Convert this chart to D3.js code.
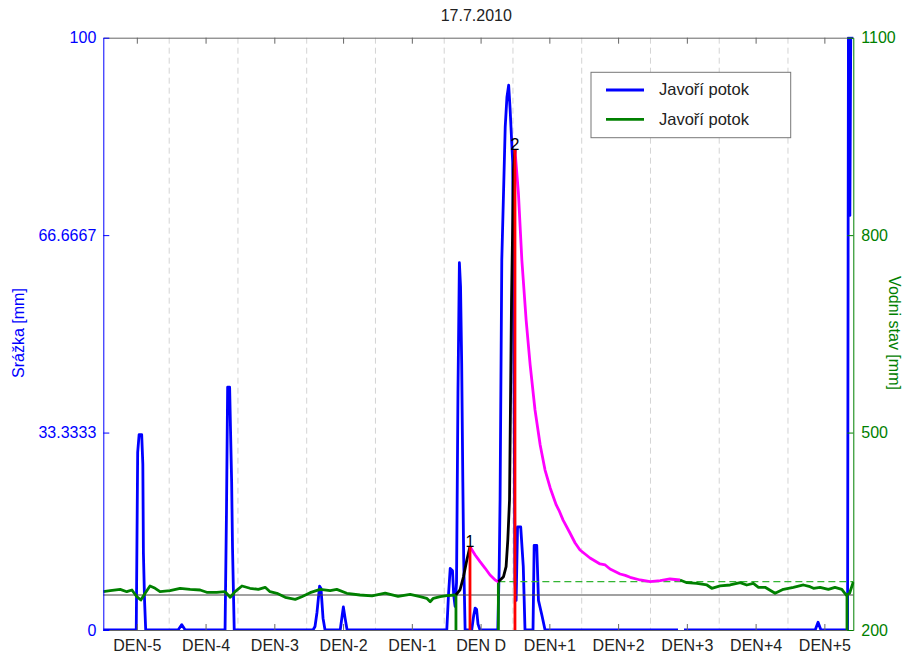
<!DOCTYPE html>
<html>
<head>
<meta charset="utf-8">
<script src="https://cdn.jsdelivr.net/npm/d3@7"></script>
<style>
  body { margin: 0; background: #fff; }
  svg { display: block; font-family: Arial, "Liberation Sans", sans-serif; }
</style>
</head>
<body>
<svg id="chart" width="906" height="659"></svg>
<script>
// time is in hours, 0 = label "DEN D"
const title = '17.7.2010';
const dayTicks = [-120, -96, -72, -48, -24, 0, 24, 48, 72, 96, 120];
const dayLabels = ['DEN-5', 'DEN-4', 'DEN-3', 'DEN-2', 'DEN-1', 'DEN D', 'DEN+1', 'DEN+2', 'DEN+3', 'DEN+4', 'DEN+5'];
const gridHours = [-108.7, -84.7, -60.7, -36.7, -12.7, 11.3, 35.3, 59.3, 83.3, 107.3];
const rainTicks = [0, 33.3333, 66.6667, 100];
const rainTickLabels = ['0', '33.3333', '66.6667', '100'];
const levelTicks = [200, 500, 800, 1100];

// precipitation (left axis)
const rainHours = [-131.7, -120.2, -119.7, -119.2, -118.3, -117.9, -117.7, -117.3, -116.9,
    -105.6, -104.3, -103.1,
    -89.2, -88.7, -88.3, -87.6, -87.3, -86.9, -86.6, -86.0,
    -58.5, -57.8, -57.1, -56.2, -55.7, -55.0, -54.3,
    -49.0, -48.3, -47.9, -47.3, -46.6,
    -11.8, -11.2, -10.6, -9.8, -9.4, -8.9, -8.4, -7.9, -7.4, -7.0, -6.6, -6.2, -5.9, -5.4,
    -3.1, -2.4, -1.9, -1.4, -0.9, -0.2,
    6.0, 6.5, 6.8, 7.4, 8.0, 8.6, 9.2, 9.8, 10.3, 11.2, 11.7, 12.0, 12.4, 12.9, 14.0, 14.9, 15.5,
    18.3, 18.7, 19.6, 20.2, 21.4, 22.5,
    68.9, 70.0, 71.0,
    116.8, 117.8, 118.8,
    128.1, 128.4, 128.7, 128.9, 129.2, 130.1];
const rainMm = [0, 0, 30, 33, 33, 28, 13, 5, 0,
    0, 0.9, 0,
    0, 20, 41, 41, 34, 25, 14, 0,
    0, 0.6, 3, 7.4, 7, 2, 0,
    0, 2.5, 3.9, 2, 0,
    0, 6, 10.4, 10, 6, 4, 8, 40, 62, 58, 45, 25, 12, 0,
    0, 2.5, 3.7, 3.5, 1, 0,
    0, 10.6, 22, 62.5, 73.7, 85, 90, 92, 88, 79, 40, 8, 5, 17.4, 17.4, 10.7, 0,
    0, 14.3, 14.3, 5, 2.5, 0,
    0, null, 0,
    0, 1.3, 0,
    0, 100, 100, 70, 100, 100];

// water level (right axis)
const levelHours = [-131.7, -129.3, -125.8, -123.5, -121.7, -120.0, -118.6, -117.1, -115.4, -113.6,
    -111.9, -108.4, -104.9, -101.4, -97.9, -95.6, -92.1, -89.2, -87.4, -85.7,
    -83.3, -80.5, -77.6, -75.2, -73.5, -71.1, -68.2, -64.7, -62.4, -59.5,
    -56.0, -52.5, -50.2, -46.7, -42.1, -37.9, -33.3, -28.8, -24.6, -21.1,
    -18.8, -17.6, -16.5, -14.1, -11.8, -8.6, -8.5,
    69.6, 72.0, 75.5, 79.0, 80.7, 83.6, 87.1, 90.6, 92.9, 95.2,
    97.0, 99.3, 102.8, 105.7, 109.2, 112.7, 115.0, 116.2, 118.5, 121.4,
    123.7, 126.1, 127.6, 128.8, 130.1];
const levelMm = [258.2, 259.7, 261.8, 258.2, 260.8, 250.6, 245.6, 255.8, 266.9, 263.4,
    258.2, 259.7, 263.4, 261.8, 260.8, 257.3, 257.3, 258.2, 249.7, 258.2,
    266.9, 263.4, 261.8, 264.9, 258.2, 255.8, 249.7, 246.6, 250.6, 256.7,
    261.8, 259.7, 261.8, 255.8, 253.2, 252.0, 256.0, 251.0, 254.0, 250.6,
    248.2, 243.0, 248.2, 250.6, 252.1, 253.2, null,
    276.0, 271.9, 271.0, 268.4, 263.4, 266.9, 268.4, 271.9, 268.4, 271.0,
    264.9, 264.9, 255.8, 261.8, 264.9, 268.4, 265.8, 263.4, 264.9, 261.8,
    264.9, 261.8, 253.2, 255.8, 272.9];

// events: rising limbs (black) and recessions (magenta)
const riseHours1 = [-8.6, -7.2, -6.0, -4.8, -3.7];
const riseMm1 = [253.2, 260.8, 280.5, 306.4, 326.6];
const fallHours1 = [-3.7, -1.9, -0.2, 1.6, 3.3, 5.1, 6.2];
const fallMm1 = [326.6, 314.0, 303.8, 293.8, 283.6, 276.0, 273.4];
const riseHours2 = [6.2, 8.0, 8.9, 9.5, 10.1, 10.8, 11.5, 12.0];
const riseMm2 = [273.4, 281.0, 296.2, 336.8, 397.5, 701.4, 899.0, 929.4];
const fallHours2 = [12.0, 13.2, 14.4, 15.9, 17.3, 19.0, 20.8, 22.5, 24.3, 26.4, 27.5, 28.8, 31.2,
    33.0, 34.7, 38.2, 41.7, 43.5, 45.2, 48.7, 50.5, 52.2, 55.7, 59.2, 62.7, 66.1, 69.6];
const fallMm2 = [929.4, 864.0, 762.2, 671.0, 602.7, 534.3, 481.1, 443.1, 415.8, 390.0, 380.5, 367.0, 347.4,
    332.2, 321.6, 309.4, 300.3, 298.8, 292.7, 285.1, 283.0, 280.1, 276.0, 273.4, 274.9, 277.5, 276.0];

const startHours = [-8.6, 6.2, 127.9];
const startMm = [253.2, 273.4, 253.2];
const peakHours = [-3.7, 12.0];
const peakMm = [326.6, 929.4];
const peakLabels = ['1', '2'];
const baseLevel = 253.2;
const dashedLevel = 273.4;
const dashedFrom = 6.2;

const legendNames = ['Javoří potok', 'Javoří potok'];
const legendColors = ['#0000ff', '#008000'];

const width = 906, height = 659;
const margin = {top: 37.7, right: 52.7, bottom: 29, left: 103.3};
const w = width - margin.left - margin.right,
    h = height - margin.top - margin.bottom;

const svg = d3.select('#chart');
const g = svg.append('g').attr('transform', `translate(${margin.left},${margin.top})`);

const x = d3.scaleLinear().domain([-131.7, 130.1]).range([0, w]);
const yRain = d3.scaleLinear().domain([0, 100]).range([h, 0]);
const yLevel = d3.scaleLinear().domain([200, 1100]).range([h, 0]);

const zip = (a, b) => a.map((t, i) => ({t, v: b[i]}));

svg.append('defs').append('clipPath').attr('id', 'clip')
    .append('rect').attr('x', -1).attr('y', -1).attr('width', w + 2).attr('height', h + 2);

// dashed day grid
g.selectAll('.grid').data(gridHours).enter()
    .append('line')
    .attr('x1', d => x(d)).attr('x2', d => x(d))
    .attr('y1', 0).attr('y2', h)
    .attr('stroke', '#d4d4d4').attr('stroke-dasharray', '6,4');

const plot = g.append('g').attr('clip-path', 'url(#clip)');

const rainLine = d3.line().defined(d => d.v != null).x(d => x(d.t)).y(d => yRain(d.v));
const levelLine = d3.line().defined(d => d.v != null).x(d => x(d.t)).y(d => yLevel(d.v));

plot.append('path').datum(zip(rainHours, rainMm))
    .attr('d', rainLine).attr('fill', 'none')
    .attr('stroke', '#0000ff').attr('stroke-width', 2.8).attr('stroke-linejoin', 'round');

// base levels
plot.append('line')
    .attr('x1', 0).attr('x2', w)
    .attr('y1', yLevel(baseLevel)).attr('y2', yLevel(baseLevel))
    .attr('stroke', '#444').attr('stroke-width', 1.2);
plot.append('line')
    .attr('x1', x(dashedFrom)).attr('x2', w)
    .attr('y1', yLevel(dashedLevel)).attr('y2', yLevel(dashedLevel))
    .attr('stroke', '#33b533').attr('stroke-width', 1.3).attr('stroke-dasharray', '7,4');

plot.append('path').datum(zip(levelHours, levelMm))
    .attr('d', levelLine).attr('fill', 'none')
    .attr('stroke', '#008000').attr('stroke-width', 2.8).attr('stroke-linejoin', 'round');

// event starts
plot.selectAll('.start').data(startHours).enter()
    .append('line')
    .attr('x1', d => x(d)).attr('x2', d => x(d))
    .attr('y1', yLevel(200)).attr('y2', (d, i) => yLevel(startMm[i]))
    .attr('stroke', '#008000').attr('stroke-width', 2.8);

[[fallHours1, fallMm1], [fallHours2, fallMm2]].forEach(([a, b]) => {
    plot.append('path').datum(zip(a, b))
        .attr('d', levelLine).attr('fill', 'none')
        .attr('stroke', '#ff00ff').attr('stroke-width', 2.8).attr('stroke-linejoin', 'round');
});
[[riseHours1, riseMm1], [riseHours2, riseMm2]].forEach(([a, b]) => {
    plot.append('path').datum(zip(a, b))
        .attr('d', levelLine).attr('fill', 'none')
        .attr('stroke', '#000').attr('stroke-width', 2.8).attr('stroke-linejoin', 'round');
});

// peaks
plot.selectAll('.peak').data(peakHours).enter()
    .append('line')
    .attr('x1', d => x(d)).attr('x2', d => x(d))
    .attr('y1', yLevel(200)).attr('y2', (d, i) => yLevel(peakMm[i]))
    .attr('stroke', '#ff0000').attr('stroke-width', 2.8);

g.selectAll('.peaklabel').data(peakHours).enter()
    .append('text')
    .attr('x', d => x(d)).attr('y', (d, i) => yLevel(peakMm[i]) + 0.5)
    .attr('text-anchor', 'middle').attr('font-size', 16).attr('fill', '#000')
    .text((d, i) => peakLabels[i]);

// axes
const styleAxis = (sel, color, textColor) => {
    sel.select('.domain').attr('stroke', color);
    sel.selectAll('.tick line').attr('stroke', color);
    sel.selectAll('.tick text').attr('fill', textColor).attr('font-size', 16)
        .attr('font-family', 'Arial, "Liberation Sans", sans-serif');
};

g.append('g').call(d3.axisTop(x).tickValues(dayTicks).tickSize(-6).tickSizeOuter(0).tickFormat(''))
    .call(s => styleAxis(s, '#666', '#222'));
g.append('g').attr('transform', `translate(0,${h})`)
    .call(d3.axisBottom(x).tickValues(dayTicks).tickSize(-6).tickSizeOuter(0).tickPadding(9.5)
        .tickFormat((d, i) => dayLabels[i]))
    .call(s => styleAxis(s, '#666', '#222'));
g.append('g')
    .call(d3.axisLeft(yRain).tickValues(rainTicks).tickSize(-6).tickSizeOuter(0).tickPadding(7)
        .tickFormat((d, i) => rainTickLabels[i]))
    .call(s => styleAxis(s, '#0000ff', '#0000ff'));
g.append('g').attr('transform', `translate(${w},0)`)
    .call(d3.axisRight(yLevel).tickValues(levelTicks).tickSize(-6).tickSizeOuter(0).tickPadding(8)
        .tickFormat(d3.format('d')))
    .call(s => styleAxis(s, '#008000', '#008000'));

// titles
svg.append('text').attr('x', margin.left + w / 2 - 2).attr('y', 21)
    .attr('text-anchor', 'middle').attr('font-size', 16).attr('fill', '#222').text(title);
svg.append('text').attr('transform', 'translate(24,333) rotate(-90)')
    .attr('text-anchor', 'middle').attr('font-size', 16).attr('fill', '#0000ff').text('Srážka [mm]');
svg.append('text').attr('transform', 'translate(889,333) rotate(90)')
    .attr('text-anchor', 'middle').attr('font-size', 16).attr('fill', '#008000').text('Vodni stav [mm]');

// legend
const legend = svg.append('g').attr('transform', 'translate(591,72.3)');
legend.append('rect').attr('width', 199.7).attr('height', 65.4)
    .attr('fill', '#fff').attr('stroke', '#777');
legendNames.forEach((name, i) => {
    const yy = 17.7 + i * 29.3;
    legend.append('line').attr('x1', 15).attr('x2', 53).attr('y1', yy).attr('y2', yy)
        .attr('stroke', legendColors[i]).attr('stroke-width', 2.8);
    legend.append('text').attr('x', 68).attr('y', yy + 5.5)
        .attr('font-size', 16.5).attr('fill', '#222').text(name);
});
</script>
</body>
</html>
